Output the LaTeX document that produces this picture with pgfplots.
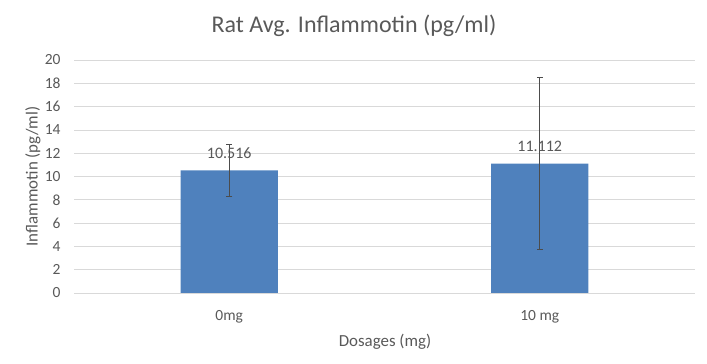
\documentclass[border=0pt]{standalone}
\usepackage{pgfplots}
\usepackage{pgfplotstable}
\pgfplotsset{compat=1.18}
\usepackage{fontspec}
\setmainfont{Carlito}
\definecolor{txt}{HTML}{595959}
\definecolor{barc}{HTML}{4F81BD}
\definecolor{grd}{HTML}{D9D9D9}
\pgfplotstableread{
x y err lab
0 10.516 2.2 10.516
1 11.112 7.4 11.112
}\data
\begin{document}
\begin{tikzpicture}[x=1pt,y=1pt]
\path (0,0) rectangle (707,364);
\begin{axis}[at={(74pt,71pt)}, anchor=south west, scale only axis,
  width=621pt, height=233pt,
  xmin=-0.5, xmax=1.5, ymin=0, ymax=20,
  ytick={0,2,...,20}, xtick={0,1}, xticklabels={0mg,10 mg},
  ymajorgrids, grid style={grd, line width=0.75pt},
  axis lines*=left,
  x axis line style={grd, line width=0.75pt},
  y axis line style={draw=none},
  major tick length=0pt,
  tick label style={font=\fontsize{15.5}{17}\selectfont, color=txt},
  /pgf/number format/assume math mode=true,
  xticklabel style={yshift=-14pt},
  yticklabel style={xshift=-10pt},
  clip=false,
]
\addplot[ybar, bar width=0.313, fill=barc, draw=none,
  point meta=explicit symbolic,
  nodes near coords,
  nodes near coords align={center},
  every node near coord/.append style={font=\fontsize{16}{18}\selectfont, color=txt, yshift=17pt, anchor=center},
  error bars/.cd, y dir=both, y explicit,
  error bar style={color=black!70, line width=0.75pt},
  error mark options={rotate=90, mark size=3pt, line width=0.75pt, color=black!70}]
  table[x=x, y=y, y error=err, meta=lab] {\data};
\end{axis}
\node[font=\fontsize{24}{26}\selectfont, color=txt] at (354,338) {Rat Avg. Inflammotin (pg/ml)};
\node[font=\fontsize{16.9}{18}\selectfont, color=txt] at (385,22) {Dosages (mg)};
\node[font=\fontsize{16.9}{18}\selectfont, color=txt, rotate=90] at (33,187.5) {Inflammotin (pg/ml)};
\end{tikzpicture}
\end{document}
